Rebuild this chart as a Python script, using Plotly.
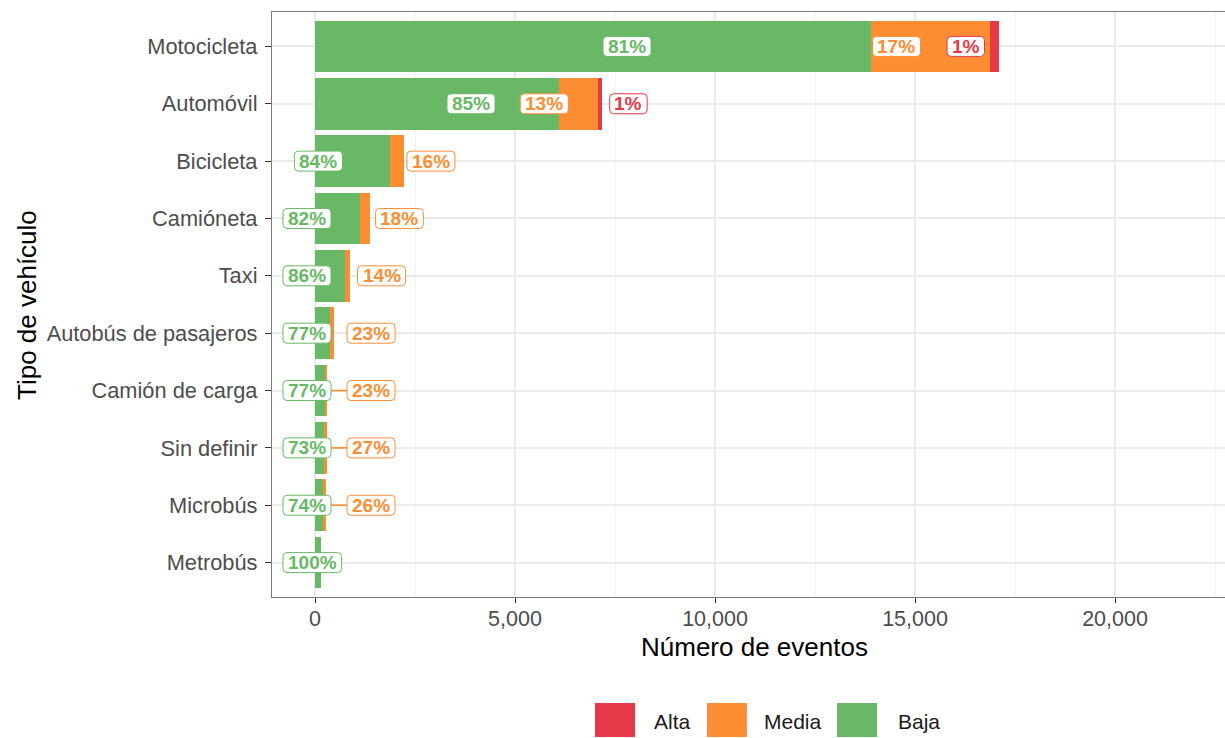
import itertools
import plotly.graph_objects as go

# ---------------- data ----------------
categories = ["Motocicleta", "Automóvil", "Bicicleta", "Camióneta", "Taxi",
              "Autobús de pasajeros", "Camión de carga", "Sin definir",
              "Microbús", "Metrobús"]
baja = [13900, 6100, 1870, 1135, 752, 370, 239, 215, 200, 150]
media = [2975, 965, 355, 248, 123, 110, 71, 80, 70, 0]
alta = [225, 105, 0, 0, 0, 0, 0, 0, 0, 0]
x_ticks = [0, 5000, 10000, 15000, 20000]
legend_order = ["Alta", "Media", "Baja"]
colors = {"Alta": "#E63A49", "Media": "#FD8D33", "Baja": "#68B866"}

# ---------------- layout constants ----------------
W, H = 1225, 738
ML, MT, MB, MR = 272, 12, 141, 0
XR = [-1075, 22750]
n = len(categories)
YR = [0.4, n + 0.6]
ypos = [n - i for i in range(n)]
plot_w = W - ML - MR
plot_h = H - MT - MB
sx = plot_w / (XR[1] - XR[0])
sy = plot_h / (YR[1] - YR[0])
FONT = "Liberation Sans, Arial, Helvetica, sans-serif"
LBL_SIZE = 19


def xpx(v):
    return ML + (v - XR[0]) * sx


def xval(p):
    return XR[0] + (p - ML) / sx


def paper_x(p):
    return (p - ML) / plot_w


def paper_y(p):
    return (H - MB - p) / plot_h


fig = go.Figure()
series = [("Baja", baja), ("Media", media), ("Alta", alta)]
for name, vals in series:
    fig.add_trace(go.Bar(y=ypos, x=vals, orientation="h", name=name,
                         marker=dict(color=colors[name], line=dict(width=0)),
                         width=0.9, showlegend=False, hoverinfo="skip"))

# ---------------- repelled labels ----------------
P_PAD, GAP, LMIN, K = 10, 16, ML + 11, 3


def text_w(t):
    return sum(0.889 if ch == "%" else 0.556 for ch in t) * LBL_SIZE + 10


def resolve(c, w):
    c = list(c)
    for _ in range(400):
        moved = False
        for i in range(len(c)):
            lo = LMIN + w[i] / 2
            if c[i] < lo - 1e-9:
                c[i] = lo
                moved = True
        order = sorted(range(len(c)), key=lambda i: c[i])
        for k in range(len(order) - 1):
            i, j = order[k], order[k + 1]
            need = (w[i] + w[j]) / 2 + GAP
            gap = c[j] - c[i]
            if gap < need - 1e-6:
                d = need - gap
                c[i] -= d / 2
                c[j] += d / 2
                moved = True
        if not moved:
            break
    return c


def depth(ci, wi, a):
    d = min(ci + wi / 2 + P_PAD - a, a - (ci - wi / 2 - P_PAD))
    return max(0.0, d)


seg_shapes, box_shapes, texts = [], [], []
for r in range(n):
    total = baja[r] + media[r] + alta[r]
    cum = 0
    labs = []
    for name, vals in series:
        v = vals[r]
        if v > 0:
            pct = f"{round(100 * v / total)}%"
            labs.append((name, pct, xpx(cum + v / 2)))
        cum += v
    anchors = [a for _, _, a in labs]
    widths = [text_w(t) for _, t, _ in labs]
    choices = [[1, -1] if i == 0 else [-1, 1] for i in range(len(labs))]
    best, best_cost = None, None
    for sides in itertools.product(*choices):
        c0 = [a + s * (w / 2 + P_PAD) for a, s, w in zip(anchors, sides, widths)]
        c = resolve(c0, widths)
        cost = sum(abs(ci - a) for ci, a in zip(c, anchors))
        for i, (ci, wi) in enumerate(zip(c, widths)):
            pinned = ci <= LMIN + wi / 2 + 0.5
            for j, a in enumerate(anchors):
                if i == j and pinned:
                    continue
                cost += K * depth(ci, wi, a)
        if best_cost is None or cost < best_cost - 1e-6:
            best, best_cost = c, cost
    y = ypos[r]
    bh = 20 / sy
    for (name, t, a), c, w in zip(labs, best, widths):
        left, right = c - w / 2, c + w / 2
        if a < left and left - a > 18:
            seg_shapes.append(dict(type="line", xref="x", yref="y", x0=xval(a), x1=xval(left),
                                   y0=y, y1=y, line=dict(color=colors[name], width=1.6), layer="above"))
        elif a > right and a - right > 18:
            seg_shapes.append(dict(type="line", xref="x", yref="y", x0=xval(right), x1=xval(a),
                                   y0=y, y1=y, line=dict(color=colors[name], width=1.6), layer="above"))
        x0, x1 = xval(left), xval(right)
        y0, y1 = y - bh / 2, y + bh / 2
        rx, ry = 4 / sx, 4 / sy
        path = (f"M{x0 + rx},{y0} L{x1 - rx},{y0} Q{x1},{y0} {x1},{y0 + ry} "
                f"L{x1},{y1 - ry} Q{x1},{y1} {x1 - rx},{y1} L{x0 + rx},{y1} "
                f"Q{x0},{y1} {x0},{y1 - ry} L{x0},{y0 + ry} Q{x0},{y0} {x0 + rx},{y0} Z")
        box_shapes.append(dict(type="path", xref="x", yref="y", path=path, fillcolor="white",
                               line=dict(color=colors[name], width=1), layer="above"))
        texts.append(dict(x=xval(c), y=y, xref="x", yref="y", text=f"<b>{t}</b>", showarrow=False,
                          font=dict(family=FONT, size=LBL_SIZE, color=colors[name]),
                          xanchor="center", yanchor="middle"))

shapes = seg_shapes + box_shapes
annotations = list(texts)

# ---------------- legend (manual, ggplot style) ----------------
leg_keys = {"Alta": (595, 635), "Media": (707, 747), "Baja": (837, 877)}
leg_txt_x = {"Alta": 652, "Media": 762, "Baja": 896}
for name in legend_order:
    kx0, kx1 = leg_keys[name]
    shapes.append(dict(type="rect", xref="paper", yref="paper",
                       x0=paper_x(kx0), x1=paper_x(kx1), y0=paper_y(737), y1=paper_y(703),
                       fillcolor=colors[name], line=dict(width=0)))
    annotations.append(dict(xref="paper", yref="paper", x=paper_x(leg_txt_x[name]), y=paper_y(721),
                            text=name, showarrow=False, xanchor="left", yanchor="middle",
                            font=dict(family=FONT, size=21, color="#1A1A1A")))

# axis titles
annotations.append(dict(xref="paper", yref="paper", x=paper_x(754), y=paper_y(647),
                        text="Número de eventos", showarrow=False, xanchor="center", yanchor="middle",
                        font=dict(family=FONT, size=26, color="#000000")))
annotations.append(dict(xref="paper", yref="paper", x=paper_x(27), y=paper_y(305),
                        text="Tipo de vehículo", showarrow=False, xanchor="center", yanchor="middle",
                        textangle=-90, font=dict(family=FONT, size=26, color="#000000")))

fig.update_layout(
    width=W, height=H, barmode="stack", bargap=0.1,
    margin=dict(l=ML, r=MR, t=MT, b=MB, pad=0),
    paper_bgcolor="white", plot_bgcolor="white",
    showlegend=False,
    shapes=shapes, annotations=annotations,
    font=dict(family=FONT),
    xaxis=dict(range=XR, tickvals=x_ticks, tickformat=",d", showgrid=True,
               gridcolor="#EBEBEB", gridwidth=1.6, zeroline=False,
               minor=dict(dtick=2500, tick0=0, showgrid=True, gridcolor="#F3F3F3", gridwidth=1),
               ticks="outside", ticklen=5, tickwidth=1.2, tickcolor="#333333",
               ticklabelstandoff=-3,
               tickfont=dict(family=FONT, size=21.5, color="#4D4D4D"),
               showline=True, linecolor="#7A7A7A", linewidth=1.3, mirror=True,
               fixedrange=True),
    yaxis=dict(range=YR, tickvals=ypos, ticktext=categories, showgrid=True,
               gridcolor="#EBEBEB", gridwidth=1.6, zeroline=False,
               ticks="outside", ticklen=6, tickwidth=1.2, tickcolor="#333333",
               ticklabelstandoff=3,
               tickfont=dict(family=FONT, size=21.8, color="#4D4D4D"),
               showline=True, linecolor="#7A7A7A", linewidth=1.3, mirror=False,
               fixedrange=True),
)

fig.write_html("out.html", config={"displayModeBar": False},
               post_script="document.body.style.margin='0px';document.body.style.overflow='hidden';")
